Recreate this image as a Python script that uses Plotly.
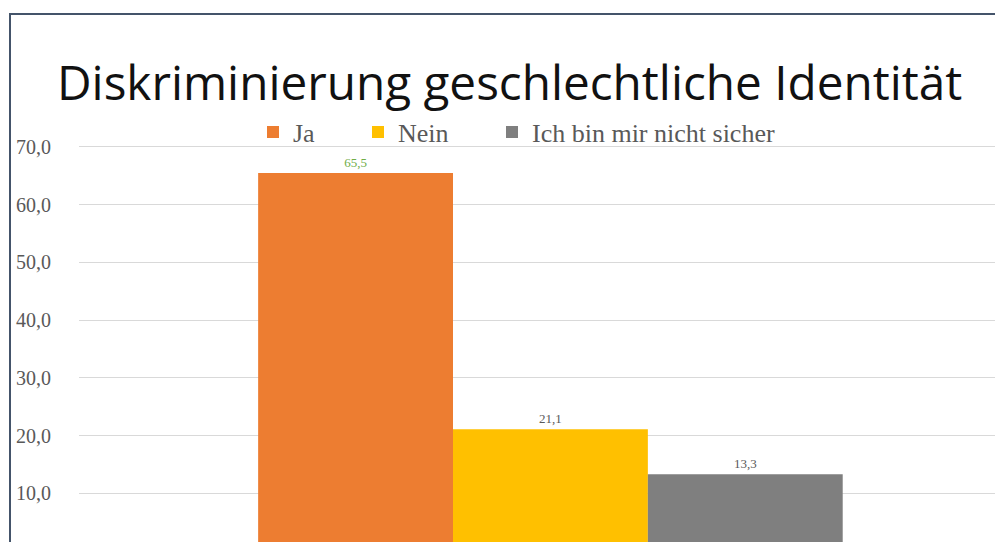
import plotly.graph_objects as go

categories = ["Diskriminierung"]
series_names = ["Ja", "Nein", "Ich bin mir nicht sicher"]
series_values = [65.5, 21.1, 13.3]
colors = ["#ED7D31", "#FFC000", "#7F7F7F"]
label_colors = ["#70AD47", "#595959", "#595959"]
tick_vals = [10, 20, 30, 40, 50, 60, 70]

# page is offset by the 8px body margin
OFF = 8
W, H = 1003 - OFF, 542 - OFF
L, T = 71, 132
plot_w = W - L
plot_h = H - T


def px(xp):  # page x -> paper x
    return (xp - OFF - L) / plot_w


def py(yp):  # page y -> paper y
    return (T + plot_h - (yp - OFF)) / plot_h


legend_x_page = [253, 358, 492]

fig = go.Figure()
for i, (name, val, c, lc) in enumerate(zip(series_names, series_values, colors, label_colors)):
    fig.add_trace(go.Bar(
        x=[0], y=[val], name=name, marker=dict(color=c, line=dict(width=0)),
        text=[val], texttemplate="%{y:.1f}", textposition="outside",
        textfont=dict(family="Liberation Serif", size=13, color=lc),
        cliponaxis=False,
        legend="legend" if i == 0 else "legend%d" % (i + 1),
    ))

leg_common = dict(orientation="h", yanchor="middle", xanchor="left",
                  font=dict(family="Liberation Serif", size=26, color="#595959"),
                  itemwidth=30, bgcolor="rgba(0,0,0,0)")

fig.update_layout(
    width=W, height=H,
    margin=dict(l=L, r=0, t=T, b=0, pad=0),
    paper_bgcolor="white", plot_bgcolor="white",
    separators=",.",
    barmode="group", bargap=0.38, bargroupgap=0,
    showlegend=True,
    legend=dict(x=px(legend_x_page[0]), y=py(132), **leg_common),
    legend2=dict(x=px(legend_x_page[1]), y=py(132), **leg_common),
    legend3=dict(x=px(legend_x_page[2]), y=py(132), **leg_common),
    xaxis=dict(range=[-0.5, 0.48], showticklabels=False, showgrid=False,
               zeroline=False, showline=False, fixedrange=True),
    yaxis=dict(range=[1.56, 71.2], tickvals=tick_vals, tickformat=".1f",
               showgrid=True, gridcolor="#D9D9D9", gridwidth=1, zeroline=False,
               showline=False, ticks="", ticklabelstandoff=27,
               tickfont=dict(family="Liberation Serif", size=20, color="#595959")),
    annotations=[dict(text="Diskriminierung geschlechtliche Identität",
                      xref="paper", yref="paper", x=px(509.5), y=py(81),
                      xanchor="center", yanchor="middle", showarrow=False,
                      font=dict(family="Open Sans", size=47.7, color="#111111"))],
    shapes=[dict(type="path", xref="paper", yref="paper",
                 path="M {x0},{y0} L {x0},{y1} L {x2},{y1}".format(
                     x0=px(10), y0=py(560), y1=py(14), x2=px(1020)),
                 line=dict(color="#44546A", width=2))],
)

fig.write_html("out.html")
